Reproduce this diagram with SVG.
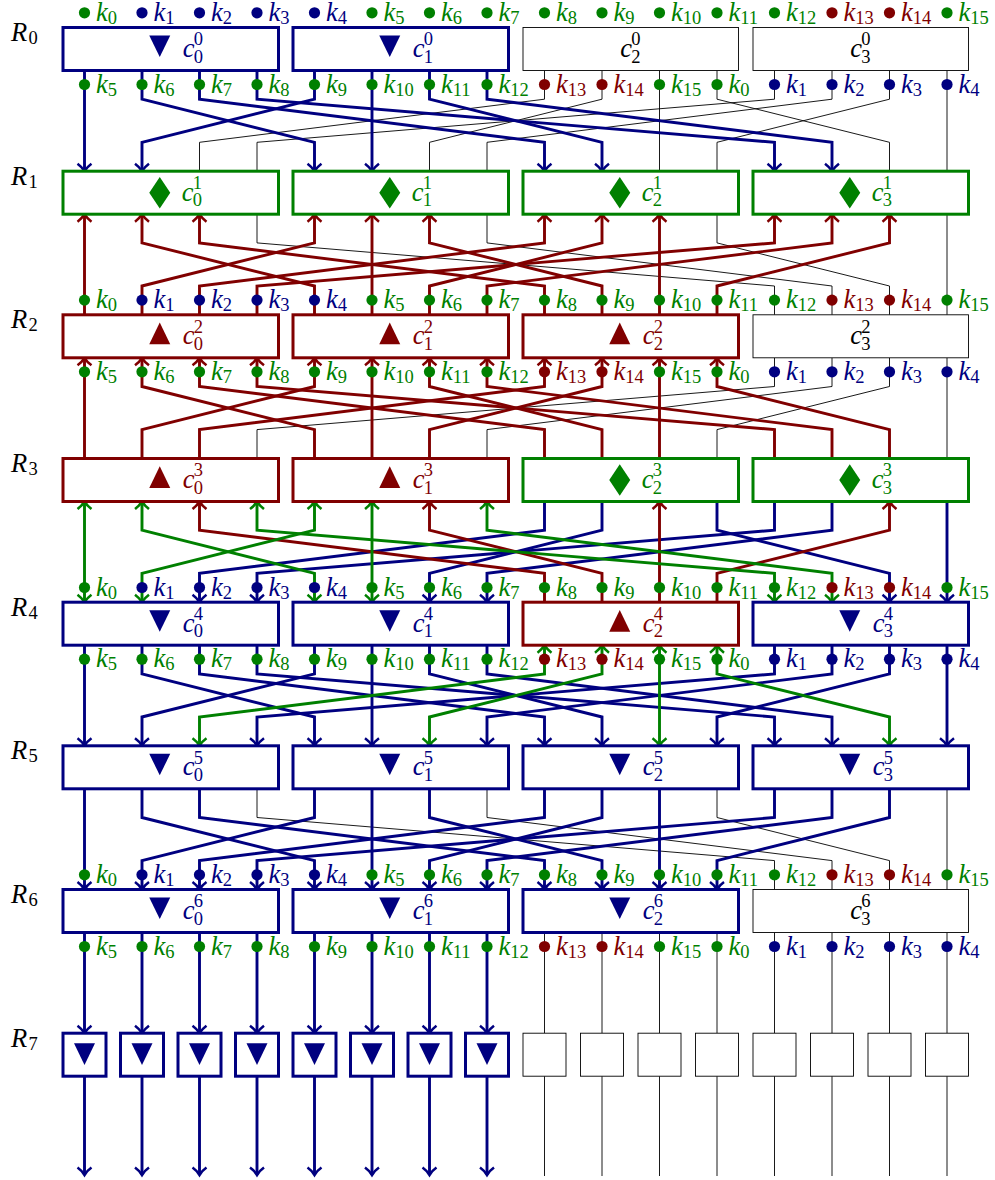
<svg xmlns="http://www.w3.org/2000/svg" width="995" height="1180" viewBox="0 0 995 1180">
<style>
text{font-family:"Liberation Serif","Times New Roman",serif;font-style:italic;font-size:26.5px}
.s{font-style:normal;font-size:18.5px}
.G{fill:#008000}.N{fill:#000080}.M{fill:#800000}.K{fill:#000}
path{fill:none}
.t{stroke:#000;stroke-width:.9}
.bd{stroke:#000080;stroke-width:2.9;marker-end:url(#an)}
.ru{stroke:#800000;stroke-width:2.9;marker-start:url(#am)}
.gg{stroke:#008000;stroke-width:2.9;marker-start:url(#ag);marker-end:url(#ag)}
.bx{fill:#fff;stroke-width:3}
.bG{stroke:#008000}.bN{stroke:#000080}.bM{stroke:#800000}
.bK{fill:#fff;stroke:#000;stroke-width:.9}
</style>
<defs>
<marker id="an" markerUnits="userSpaceOnUse" markerWidth="20" markerHeight="20" refX="0" refY="0" orient="auto-start-reverse" overflow="visible"><path d="M-7.5,-7C-5,-3.5-2,-1.2 0,0C-2,1.2-5,3.5-7.5,7" style="stroke:#000080;stroke-width:2.6"/></marker>
<marker id="am" markerUnits="userSpaceOnUse" markerWidth="20" markerHeight="20" refX="0" refY="0" orient="auto-start-reverse" overflow="visible"><path d="M-7.5,-7C-5,-3.5-2,-1.2 0,0C-2,1.2-5,3.5-7.5,7" style="stroke:#800000;stroke-width:2.6"/></marker>
<marker id="ag" markerUnits="userSpaceOnUse" markerWidth="20" markerHeight="20" refX="0" refY="0" orient="auto-start-reverse" overflow="visible"><path d="M-7.5,-7C-5,-3.5-2,-1.2 0,0C-2,1.2-5,3.5-7.5,7" style="stroke:#008000;stroke-width:2.6"/></marker>
<path id="td" style="fill:inherit" d="M-10.5,-13.5H10.5L0,8Z"/>
<path id="tu" style="fill:inherit" d="M-10.5,8H10.5L0,-13.8Z"/>
<path id="di" style="fill:inherit" d="M0,-15.7L10.5,0L0,15.7L-10.5,0Z"/>
<path id="ts" style="fill:inherit" d="M-10.5,-11.7H10.5L0,10Z"/>
</defs>
<g id="connectors">
<g id="layer0">
<path class="t" d="M544.5 70.5V99.2L199.5 142.3V171.2"/>
<path class="t" d="M602 70.5V99.2L429.5 142.3V171.2"/>
<path class="t" d="M659.5 70.5V171.2"/>
<path class="t" d="M717 70.5V99.2L889.5 142.3V171.2"/>
<path class="t" d="M774.5 70.5V99.2L257 142.3V171.2"/>
<path class="t" d="M832 70.5V99.2L487 142.3V171.2"/>
<path class="t" d="M889.5 70.5V99.2L717 142.3V171.2"/>
<path class="t" d="M947 70.5V171.2"/>
<path class="bd" d="M84.5 70.5V171.2"/>
<path class="bd" d="M142 70.5V99.2L314.5 142.3V171.2"/>
<path class="bd" d="M199.5 70.5V99.2L544.5 142.3V171.2"/>
<path class="bd" d="M257 70.5V99.2L774.5 142.3V171.2"/>
<path class="bd" d="M314.5 70.5V99.2L142 142.3V171.2"/>
<path class="bd" d="M372 70.5V171.2"/>
<path class="bd" d="M429.5 70.5V99.2L602 142.3V171.2"/>
<path class="bd" d="M487 70.5V99.2L832 142.3V171.2"/>
</g>
<g id="layer1">
<path class="t" d="M257 214.2V242.9L774.5 286V314.8"/>
<path class="t" d="M487 214.2V242.9L832 286V314.8"/>
<path class="t" d="M717 214.2V242.9L889.5 286V314.8"/>
<path class="t" d="M947 214.2V314.8"/>
<path class="ru" d="M84.5 214.2V314.8"/>
<path class="ru" d="M142 214.2V242.9L314.5 286V314.8"/>
<path class="ru" d="M199.5 214.2V242.9L544.5 286V314.8"/>
<path class="ru" d="M314.5 214.2V242.9L142 286V314.8"/>
<path class="ru" d="M372 214.2V314.8"/>
<path class="ru" d="M429.5 214.2V242.9L602 286V314.8"/>
<path class="ru" d="M544.5 214.2V242.9L199.5 286V314.8"/>
<path class="ru" d="M602 214.2V242.9L429.5 286V314.8"/>
<path class="ru" d="M659.5 214.2V314.8"/>
<path class="ru" d="M774.5 214.2V242.9L257 286V314.8"/>
<path class="ru" d="M832 214.2V242.9L487 286V314.8"/>
<path class="ru" d="M889.5 214.2V242.9L717 286V314.8"/>
</g>
<g id="layer2">
<path class="t" d="M774.5 357.8V386.5L257 429.6V458.5"/>
<path class="t" d="M832 357.8V386.5L487 429.6V458.5"/>
<path class="t" d="M889.5 357.8V386.5L717 429.6V458.5"/>
<path class="t" d="M947 357.8V458.5"/>
<path class="ru" d="M84.5 357.8V458.5"/>
<path class="ru" d="M142 357.8V386.5L314.5 429.6V458.5"/>
<path class="ru" d="M199.5 357.8V386.5L544.5 429.6V458.5"/>
<path class="ru" d="M257 357.8V386.5L774.5 429.6V458.5"/>
<path class="ru" d="M314.5 357.8V386.5L142 429.6V458.5"/>
<path class="ru" d="M372 357.8V458.5"/>
<path class="ru" d="M429.5 357.8V386.5L602 429.6V458.5"/>
<path class="ru" d="M487 357.8V386.5L832 429.6V458.5"/>
<path class="ru" d="M544.5 357.8V386.5L199.5 429.6V458.5"/>
<path class="ru" d="M602 357.8V386.5L429.5 429.6V458.5"/>
<path class="ru" d="M659.5 357.8V458.5"/>
<path class="ru" d="M717 357.8V386.5L889.5 429.6V458.5"/>
</g>
<g id="layer3">
<path class="bd" d="M544.5 501.5V530.2L199.5 573.3V602.2"/>
<path class="bd" d="M602 501.5V530.2L429.5 573.3V602.2"/>
<path class="bd" d="M717 501.5V530.2L889.5 573.3V602.2"/>
<path class="bd" d="M774.5 501.5V530.2L257 573.3V602.2"/>
<path class="bd" d="M832 501.5V530.2L487 573.3V602.2"/>
<path class="bd" d="M947 501.5V602.2"/>
<path class="ru" d="M199.5 501.5V530.2L544.5 573.3V602.2"/>
<path class="ru" d="M429.5 501.5V530.2L602 573.3V602.2"/>
<path class="ru" d="M659.5 501.5V602.2"/>
<path class="ru" d="M889.5 501.5V530.2L717 573.3V602.2"/>
<path class="gg" d="M84.5 501.5V602.2"/>
<path class="gg" d="M142 501.5V530.2L314.5 573.3V602.2"/>
<path class="gg" d="M257 501.5V530.2L774.5 573.3V602.2"/>
<path class="gg" d="M314.5 501.5V530.2L142 573.3V602.2"/>
<path class="gg" d="M372 501.5V602.2"/>
<path class="gg" d="M487 501.5V530.2L832 573.3V602.2"/>
</g>
<g id="layer4">
<path class="bd" d="M84.5 645.2V745.8"/>
<path class="bd" d="M142 645.2V673.9L314.5 717V745.8"/>
<path class="bd" d="M199.5 645.2V673.9L544.5 717V745.8"/>
<path class="bd" d="M257 645.2V673.9L774.5 717V745.8"/>
<path class="bd" d="M314.5 645.2V673.9L142 717V745.8"/>
<path class="bd" d="M372 645.2V745.8"/>
<path class="bd" d="M429.5 645.2V673.9L602 717V745.8"/>
<path class="bd" d="M487 645.2V673.9L832 717V745.8"/>
<path class="bd" d="M774.5 645.2V673.9L257 717V745.8"/>
<path class="bd" d="M832 645.2V673.9L487 717V745.8"/>
<path class="bd" d="M889.5 645.2V673.9L717 717V745.8"/>
<path class="bd" d="M947 645.2V745.8"/>
<path class="gg" d="M544.5 645.2V673.9L199.5 717V745.8"/>
<path class="gg" d="M602 645.2V673.9L429.5 717V745.8"/>
<path class="gg" d="M659.5 645.2V745.8"/>
<path class="gg" d="M717 645.2V673.9L889.5 717V745.8"/>
</g>
<g id="layer5">
<path class="t" d="M257 788.8V817.5L774.5 860.6V889.5"/>
<path class="t" d="M487 788.8V817.5L832 860.6V889.5"/>
<path class="t" d="M717 788.8V817.5L889.5 860.6V889.5"/>
<path class="t" d="M947 788.8V889.5"/>
<path class="bd" d="M84.5 788.8V889.5"/>
<path class="bd" d="M142 788.8V817.5L314.5 860.6V889.5"/>
<path class="bd" d="M199.5 788.8V817.5L544.5 860.6V889.5"/>
<path class="bd" d="M314.5 788.8V817.5L142 860.6V889.5"/>
<path class="bd" d="M372 788.8V889.5"/>
<path class="bd" d="M429.5 788.8V817.5L602 860.6V889.5"/>
<path class="bd" d="M544.5 788.8V817.5L199.5 860.6V889.5"/>
<path class="bd" d="M602 788.8V817.5L429.5 860.6V889.5"/>
<path class="bd" d="M659.5 788.8V889.5"/>
<path class="bd" d="M774.5 788.8V817.5L257 860.6V889.5"/>
<path class="bd" d="M832 788.8V817.5L487 860.6V889.5"/>
<path class="bd" d="M889.5 788.8V817.5L717 860.6V889.5"/>
</g>
<g id="layer6">
<path class="bd" d="M84.5 932.5V1033.2"/>
<path class="bd" d="M142 932.5V1033.2"/>
<path class="bd" d="M199.5 932.5V1033.2"/>
<path class="bd" d="M257 932.5V1033.2"/>
<path class="bd" d="M314.5 932.5V1033.2"/>
<path class="bd" d="M372 932.5V1033.2"/>
<path class="bd" d="M429.5 932.5V1033.2"/>
<path class="bd" d="M487 932.5V1033.2"/>
<path class="t" d="M544.5 932.5V1033.2"/>
<path class="t" d="M602 932.5V1033.2"/>
<path class="t" d="M659.5 932.5V1033.2"/>
<path class="t" d="M717 932.5V1033.2"/>
<path class="t" d="M774.5 932.5V1033.2"/>
<path class="t" d="M832 932.5V1033.2"/>
<path class="t" d="M889.5 932.5V1033.2"/>
<path class="t" d="M947 932.5V1033.2"/>
</g>
<g id="layer7">
<path class="bd" d="M84.5 1076.2V1175"/>
<path class="bd" d="M142 1076.2V1175"/>
<path class="bd" d="M199.5 1076.2V1175"/>
<path class="bd" d="M257 1076.2V1175"/>
<path class="bd" d="M314.5 1076.2V1175"/>
<path class="bd" d="M372 1076.2V1175"/>
<path class="bd" d="M429.5 1076.2V1175"/>
<path class="bd" d="M487 1076.2V1175"/>
<path class="t" d="M544.5 1076.2V1176"/>
<path class="t" d="M602 1076.2V1176"/>
<path class="t" d="M659.5 1076.2V1176"/>
<path class="t" d="M717 1076.2V1176"/>
<path class="t" d="M774.5 1076.2V1176"/>
<path class="t" d="M832 1076.2V1176"/>
<path class="t" d="M889.5 1076.2V1176"/>
<path class="t" d="M947 1076.2V1176"/>
</g>
</g>
<g id="round-labels">
<text x="11" y="41">R<tspan class="s" x="28.5" y="44">0</tspan></text>
<text x="11" y="184.7">R<tspan class="s" x="28.5" y="187.7">1</tspan></text>
<text x="11" y="328.3">R<tspan class="s" x="28.5" y="331.3">2</tspan></text>
<text x="11" y="472">R<tspan class="s" x="28.5" y="475">3</tspan></text>
<text x="11" y="615.7">R<tspan class="s" x="28.5" y="618.7">4</tspan></text>
<text x="11" y="759.4">R<tspan class="s" x="28.5" y="762.4">5</tspan></text>
<text x="11" y="903">R<tspan class="s" x="28.5" y="906">6</tspan></text>
<text x="11" y="1046.7">R<tspan class="s" x="28.5" y="1049.7">7</tspan></text>
</g>
<g id="c0-0"><rect class="bx bN" x="63" y="27.5" width="215.5" height="43"/><use class="N" href="#td" x="159.75" y="49"/><text class="N" x="182.75" y="57">c<tspan class="s" x="193.75" y="45.2">0</tspan><tspan class="s" x="193.75" y="62.5">0</tspan></text></g>
<g id="c0-1"><rect class="bx bN" x="293" y="27.5" width="215.5" height="43"/><use class="N" href="#td" x="389.75" y="49"/><text class="N" x="412.75" y="57">c<tspan class="s" x="423.75" y="45.2">0</tspan><tspan class="s" x="423.75" y="62.5">1</tspan></text></g>
<g id="c0-2"><rect class="bK" x="523" y="27.5" width="215.5" height="43"/><text class="K" x="620.25" y="57">c<tspan class="s" x="631.25" y="45.2">0</tspan><tspan class="s" x="631.25" y="62.5">2</tspan></text></g>
<g id="c0-3"><rect class="bK" x="753" y="27.5" width="215.5" height="43"/><text class="K" x="850.25" y="57">c<tspan class="s" x="861.25" y="45.2">0</tspan><tspan class="s" x="861.25" y="62.5">3</tspan></text></g>
<g id="c1-0"><rect class="bx bG" x="63" y="171.2" width="215.5" height="43"/><use class="G" href="#di" x="159.75" y="192.7"/><text class="G" x="181.75" y="200.7">c<tspan class="s" x="192.75" y="188.9">1</tspan><tspan class="s" x="192.75" y="206.2">0</tspan></text></g>
<g id="c1-1"><rect class="bx bG" x="293" y="171.2" width="215.5" height="43"/><use class="G" href="#di" x="389.75" y="192.7"/><text class="G" x="411.75" y="200.7">c<tspan class="s" x="422.75" y="188.9">1</tspan><tspan class="s" x="422.75" y="206.2">1</tspan></text></g>
<g id="c1-2"><rect class="bx bG" x="523" y="171.2" width="215.5" height="43"/><use class="G" href="#di" x="619.75" y="192.7"/><text class="G" x="641.75" y="200.7">c<tspan class="s" x="652.75" y="188.9">1</tspan><tspan class="s" x="652.75" y="206.2">2</tspan></text></g>
<g id="c1-3"><rect class="bx bG" x="753" y="171.2" width="215.5" height="43"/><use class="G" href="#di" x="849.75" y="192.7"/><text class="G" x="871.75" y="200.7">c<tspan class="s" x="882.75" y="188.9">1</tspan><tspan class="s" x="882.75" y="206.2">3</tspan></text></g>
<g id="c2-0"><rect class="bx bM" x="63" y="314.8" width="215.5" height="43"/><use class="M" href="#tu" x="159.75" y="336.3"/><text class="M" x="182.75" y="344.3">c<tspan class="s" x="193.75" y="332.5">2</tspan><tspan class="s" x="193.75" y="349.8">0</tspan></text></g>
<g id="c2-1"><rect class="bx bM" x="293" y="314.8" width="215.5" height="43"/><use class="M" href="#tu" x="389.75" y="336.3"/><text class="M" x="412.75" y="344.3">c<tspan class="s" x="423.75" y="332.5">2</tspan><tspan class="s" x="423.75" y="349.8">1</tspan></text></g>
<g id="c2-2"><rect class="bx bM" x="523" y="314.8" width="215.5" height="43"/><use class="M" href="#tu" x="619.75" y="336.3"/><text class="M" x="642.75" y="344.3">c<tspan class="s" x="653.75" y="332.5">2</tspan><tspan class="s" x="653.75" y="349.8">2</tspan></text></g>
<g id="c2-3"><rect class="bK" x="753" y="314.8" width="215.5" height="43"/><text class="K" x="850.25" y="344.3">c<tspan class="s" x="861.25" y="332.5">2</tspan><tspan class="s" x="861.25" y="349.8">3</tspan></text></g>
<g id="c3-0"><rect class="bx bM" x="63" y="458.5" width="215.5" height="43"/><use class="M" href="#tu" x="159.75" y="480"/><text class="M" x="182.75" y="488">c<tspan class="s" x="193.75" y="476.2">3</tspan><tspan class="s" x="193.75" y="493.5">0</tspan></text></g>
<g id="c3-1"><rect class="bx bM" x="293" y="458.5" width="215.5" height="43"/><use class="M" href="#tu" x="389.75" y="480"/><text class="M" x="412.75" y="488">c<tspan class="s" x="423.75" y="476.2">3</tspan><tspan class="s" x="423.75" y="493.5">1</tspan></text></g>
<g id="c3-2"><rect class="bx bG" x="523" y="458.5" width="215.5" height="43"/><use class="G" href="#di" x="619.75" y="480"/><text class="G" x="641.75" y="488">c<tspan class="s" x="652.75" y="476.2">3</tspan><tspan class="s" x="652.75" y="493.5">2</tspan></text></g>
<g id="c3-3"><rect class="bx bG" x="753" y="458.5" width="215.5" height="43"/><use class="G" href="#di" x="849.75" y="480"/><text class="G" x="871.75" y="488">c<tspan class="s" x="882.75" y="476.2">3</tspan><tspan class="s" x="882.75" y="493.5">3</tspan></text></g>
<g id="c4-0"><rect class="bx bN" x="63" y="602.2" width="215.5" height="43"/><use class="N" href="#td" x="159.75" y="623.7"/><text class="N" x="182.75" y="631.7">c<tspan class="s" x="193.75" y="619.9">4</tspan><tspan class="s" x="193.75" y="637.2">0</tspan></text></g>
<g id="c4-1"><rect class="bx bN" x="293" y="602.2" width="215.5" height="43"/><use class="N" href="#td" x="389.75" y="623.7"/><text class="N" x="412.75" y="631.7">c<tspan class="s" x="423.75" y="619.9">4</tspan><tspan class="s" x="423.75" y="637.2">1</tspan></text></g>
<g id="c4-2"><rect class="bx bM" x="523" y="602.2" width="215.5" height="43"/><use class="M" href="#tu" x="619.75" y="623.7"/><text class="M" x="642.75" y="631.7">c<tspan class="s" x="653.75" y="619.9">4</tspan><tspan class="s" x="653.75" y="637.2">2</tspan></text></g>
<g id="c4-3"><rect class="bx bN" x="753" y="602.2" width="215.5" height="43"/><use class="N" href="#td" x="849.75" y="623.7"/><text class="N" x="872.75" y="631.7">c<tspan class="s" x="883.75" y="619.9">4</tspan><tspan class="s" x="883.75" y="637.2">3</tspan></text></g>
<g id="c5-0"><rect class="bx bN" x="63" y="745.8" width="215.5" height="43"/><use class="N" href="#td" x="159.75" y="767.3"/><text class="N" x="182.75" y="775.3">c<tspan class="s" x="193.75" y="763.5">5</tspan><tspan class="s" x="193.75" y="780.8">0</tspan></text></g>
<g id="c5-1"><rect class="bx bN" x="293" y="745.8" width="215.5" height="43"/><use class="N" href="#td" x="389.75" y="767.3"/><text class="N" x="412.75" y="775.3">c<tspan class="s" x="423.75" y="763.5">5</tspan><tspan class="s" x="423.75" y="780.8">1</tspan></text></g>
<g id="c5-2"><rect class="bx bN" x="523" y="745.8" width="215.5" height="43"/><use class="N" href="#td" x="619.75" y="767.3"/><text class="N" x="642.75" y="775.3">c<tspan class="s" x="653.75" y="763.5">5</tspan><tspan class="s" x="653.75" y="780.8">2</tspan></text></g>
<g id="c5-3"><rect class="bx bN" x="753" y="745.8" width="215.5" height="43"/><use class="N" href="#td" x="849.75" y="767.3"/><text class="N" x="872.75" y="775.3">c<tspan class="s" x="883.75" y="763.5">5</tspan><tspan class="s" x="883.75" y="780.8">3</tspan></text></g>
<g id="c6-0"><rect class="bx bN" x="63" y="889.5" width="215.5" height="43"/><use class="N" href="#td" x="159.75" y="911"/><text class="N" x="182.75" y="919">c<tspan class="s" x="193.75" y="907.2">6</tspan><tspan class="s" x="193.75" y="924.5">0</tspan></text></g>
<g id="c6-1"><rect class="bx bN" x="293" y="889.5" width="215.5" height="43"/><use class="N" href="#td" x="389.75" y="911"/><text class="N" x="412.75" y="919">c<tspan class="s" x="423.75" y="907.2">6</tspan><tspan class="s" x="423.75" y="924.5">1</tspan></text></g>
<g id="c6-2"><rect class="bx bN" x="523" y="889.5" width="215.5" height="43"/><use class="N" href="#td" x="619.75" y="911"/><text class="N" x="642.75" y="919">c<tspan class="s" x="653.75" y="907.2">6</tspan><tspan class="s" x="653.75" y="924.5">2</tspan></text></g>
<g id="c6-3"><rect class="bK" x="753" y="889.5" width="215.5" height="43"/><text class="K" x="850.25" y="919">c<tspan class="s" x="861.25" y="907.2">6</tspan><tspan class="s" x="861.25" y="924.5">3</tspan></text></g>
<g id="s0"><rect class="bx bN" x="63" y="1033.2" width="43" height="43"/><use class="N" href="#ts" x="84.5" y="1055"/></g>
<g id="s1"><rect class="bx bN" x="120.5" y="1033.2" width="43" height="43"/><use class="N" href="#ts" x="142" y="1055"/></g>
<g id="s2"><rect class="bx bN" x="178" y="1033.2" width="43" height="43"/><use class="N" href="#ts" x="199.5" y="1055"/></g>
<g id="s3"><rect class="bx bN" x="235.5" y="1033.2" width="43" height="43"/><use class="N" href="#ts" x="257" y="1055"/></g>
<g id="s4"><rect class="bx bN" x="293" y="1033.2" width="43" height="43"/><use class="N" href="#ts" x="314.5" y="1055"/></g>
<g id="s5"><rect class="bx bN" x="350.5" y="1033.2" width="43" height="43"/><use class="N" href="#ts" x="372" y="1055"/></g>
<g id="s6"><rect class="bx bN" x="408" y="1033.2" width="43" height="43"/><use class="N" href="#ts" x="429.5" y="1055"/></g>
<g id="s7"><rect class="bx bN" x="465.5" y="1033.2" width="43" height="43"/><use class="N" href="#ts" x="487" y="1055"/></g>
<g id="s8"><rect class="bK" x="523" y="1033.2" width="43" height="43"/></g>
<g id="s9"><rect class="bK" x="580.5" y="1033.2" width="43" height="43"/></g>
<g id="s10"><rect class="bK" x="638" y="1033.2" width="43" height="43"/></g>
<g id="s11"><rect class="bK" x="695.5" y="1033.2" width="43" height="43"/></g>
<g id="s12"><rect class="bK" x="753" y="1033.2" width="43" height="43"/></g>
<g id="s13"><rect class="bK" x="810.5" y="1033.2" width="43" height="43"/></g>
<g id="s14"><rect class="bK" x="868" y="1033.2" width="43" height="43"/></g>
<g id="s15"><rect class="bK" x="925.5" y="1033.2" width="43" height="43"/></g>
<g id="keys-r0-top">
<circle class="G" cx="84.5" cy="12.8" r="5.6"/><text class="G" x="96" y="20.8">k<tspan class="s" dy="3">0</tspan></text>
<circle class="N" cx="142" cy="12.8" r="5.6"/><text class="N" x="153.5" y="20.8">k<tspan class="s" dy="3">1</tspan></text>
<circle class="N" cx="199.5" cy="12.8" r="5.6"/><text class="N" x="211" y="20.8">k<tspan class="s" dy="3">2</tspan></text>
<circle class="N" cx="257" cy="12.8" r="5.6"/><text class="N" x="268.5" y="20.8">k<tspan class="s" dy="3">3</tspan></text>
<circle class="N" cx="314.5" cy="12.8" r="5.6"/><text class="N" x="326" y="20.8">k<tspan class="s" dy="3">4</tspan></text>
<circle class="G" cx="372" cy="12.8" r="5.6"/><text class="G" x="383.5" y="20.8">k<tspan class="s" dy="3">5</tspan></text>
<circle class="G" cx="429.5" cy="12.8" r="5.6"/><text class="G" x="441" y="20.8">k<tspan class="s" dy="3">6</tspan></text>
<circle class="G" cx="487" cy="12.8" r="5.6"/><text class="G" x="498.5" y="20.8">k<tspan class="s" dy="3">7</tspan></text>
<circle class="G" cx="544.5" cy="12.8" r="5.6"/><text class="G" x="556" y="20.8">k<tspan class="s" dy="3">8</tspan></text>
<circle class="G" cx="602" cy="12.8" r="5.6"/><text class="G" x="613.5" y="20.8">k<tspan class="s" dy="3">9</tspan></text>
<circle class="G" cx="659.5" cy="12.8" r="5.6"/><text class="G" x="671" y="20.8">k<tspan class="s" dy="3">10</tspan></text>
<circle class="G" cx="717" cy="12.8" r="5.6"/><text class="G" x="728.5" y="20.8">k<tspan class="s" dy="3">11</tspan></text>
<circle class="G" cx="774.5" cy="12.8" r="5.6"/><text class="G" x="786" y="20.8">k<tspan class="s" dy="3">12</tspan></text>
<circle class="M" cx="832" cy="12.8" r="5.6"/><text class="M" x="843.5" y="20.8">k<tspan class="s" dy="3">13</tspan></text>
<circle class="M" cx="889.5" cy="12.8" r="5.6"/><text class="M" x="901" y="20.8">k<tspan class="s" dy="3">14</tspan></text>
<circle class="G" cx="947" cy="12.8" r="5.6"/><text class="G" x="958.5" y="20.8">k<tspan class="s" dy="3">15</tspan></text>
</g>
<g id="keys-r0-bottom">
<circle class="G" cx="84.5" cy="84.5" r="5.6"/><text class="G" x="96" y="92.5">k<tspan class="s" dy="3">5</tspan></text>
<circle class="G" cx="142" cy="84.5" r="5.6"/><text class="G" x="153.5" y="92.5">k<tspan class="s" dy="3">6</tspan></text>
<circle class="G" cx="199.5" cy="84.5" r="5.6"/><text class="G" x="211" y="92.5">k<tspan class="s" dy="3">7</tspan></text>
<circle class="G" cx="257" cy="84.5" r="5.6"/><text class="G" x="268.5" y="92.5">k<tspan class="s" dy="3">8</tspan></text>
<circle class="G" cx="314.5" cy="84.5" r="5.6"/><text class="G" x="326" y="92.5">k<tspan class="s" dy="3">9</tspan></text>
<circle class="G" cx="372" cy="84.5" r="5.6"/><text class="G" x="383.5" y="92.5">k<tspan class="s" dy="3">10</tspan></text>
<circle class="G" cx="429.5" cy="84.5" r="5.6"/><text class="G" x="441" y="92.5">k<tspan class="s" dy="3">11</tspan></text>
<circle class="G" cx="487" cy="84.5" r="5.6"/><text class="G" x="498.5" y="92.5">k<tspan class="s" dy="3">12</tspan></text>
<circle class="M" cx="544.5" cy="84.5" r="5.6"/><text class="M" x="556" y="92.5">k<tspan class="s" dy="3">13</tspan></text>
<circle class="M" cx="602" cy="84.5" r="5.6"/><text class="M" x="613.5" y="92.5">k<tspan class="s" dy="3">14</tspan></text>
<circle class="G" cx="659.5" cy="84.5" r="5.6"/><text class="G" x="671" y="92.5">k<tspan class="s" dy="3">15</tspan></text>
<circle class="G" cx="717" cy="84.5" r="5.6"/><text class="G" x="728.5" y="92.5">k<tspan class="s" dy="3">0</tspan></text>
<circle class="N" cx="774.5" cy="84.5" r="5.6"/><text class="N" x="786" y="92.5">k<tspan class="s" dy="3">1</tspan></text>
<circle class="N" cx="832" cy="84.5" r="5.6"/><text class="N" x="843.5" y="92.5">k<tspan class="s" dy="3">2</tspan></text>
<circle class="N" cx="889.5" cy="84.5" r="5.6"/><text class="N" x="901" y="92.5">k<tspan class="s" dy="3">3</tspan></text>
<circle class="N" cx="947" cy="84.5" r="5.6"/><text class="N" x="958.5" y="92.5">k<tspan class="s" dy="3">4</tspan></text>
</g>
<g id="keys-r2-top">
<circle class="G" cx="84.5" cy="300.1" r="5.6"/><text class="G" x="96" y="308.1">k<tspan class="s" dy="3">0</tspan></text>
<circle class="N" cx="142" cy="300.1" r="5.6"/><text class="N" x="153.5" y="308.1">k<tspan class="s" dy="3">1</tspan></text>
<circle class="N" cx="199.5" cy="300.1" r="5.6"/><text class="N" x="211" y="308.1">k<tspan class="s" dy="3">2</tspan></text>
<circle class="N" cx="257" cy="300.1" r="5.6"/><text class="N" x="268.5" y="308.1">k<tspan class="s" dy="3">3</tspan></text>
<circle class="N" cx="314.5" cy="300.1" r="5.6"/><text class="N" x="326" y="308.1">k<tspan class="s" dy="3">4</tspan></text>
<circle class="G" cx="372" cy="300.1" r="5.6"/><text class="G" x="383.5" y="308.1">k<tspan class="s" dy="3">5</tspan></text>
<circle class="G" cx="429.5" cy="300.1" r="5.6"/><text class="G" x="441" y="308.1">k<tspan class="s" dy="3">6</tspan></text>
<circle class="G" cx="487" cy="300.1" r="5.6"/><text class="G" x="498.5" y="308.1">k<tspan class="s" dy="3">7</tspan></text>
<circle class="G" cx="544.5" cy="300.1" r="5.6"/><text class="G" x="556" y="308.1">k<tspan class="s" dy="3">8</tspan></text>
<circle class="G" cx="602" cy="300.1" r="5.6"/><text class="G" x="613.5" y="308.1">k<tspan class="s" dy="3">9</tspan></text>
<circle class="G" cx="659.5" cy="300.1" r="5.6"/><text class="G" x="671" y="308.1">k<tspan class="s" dy="3">10</tspan></text>
<circle class="G" cx="717" cy="300.1" r="5.6"/><text class="G" x="728.5" y="308.1">k<tspan class="s" dy="3">11</tspan></text>
<circle class="G" cx="774.5" cy="300.1" r="5.6"/><text class="G" x="786" y="308.1">k<tspan class="s" dy="3">12</tspan></text>
<circle class="M" cx="832" cy="300.1" r="5.6"/><text class="M" x="843.5" y="308.1">k<tspan class="s" dy="3">13</tspan></text>
<circle class="M" cx="889.5" cy="300.1" r="5.6"/><text class="M" x="901" y="308.1">k<tspan class="s" dy="3">14</tspan></text>
<circle class="G" cx="947" cy="300.1" r="5.6"/><text class="G" x="958.5" y="308.1">k<tspan class="s" dy="3">15</tspan></text>
</g>
<g id="keys-r2-bottom">
<circle class="G" cx="84.5" cy="371.8" r="5.6"/><text class="G" x="96" y="379.8">k<tspan class="s" dy="3">5</tspan></text>
<circle class="G" cx="142" cy="371.8" r="5.6"/><text class="G" x="153.5" y="379.8">k<tspan class="s" dy="3">6</tspan></text>
<circle class="G" cx="199.5" cy="371.8" r="5.6"/><text class="G" x="211" y="379.8">k<tspan class="s" dy="3">7</tspan></text>
<circle class="G" cx="257" cy="371.8" r="5.6"/><text class="G" x="268.5" y="379.8">k<tspan class="s" dy="3">8</tspan></text>
<circle class="G" cx="314.5" cy="371.8" r="5.6"/><text class="G" x="326" y="379.8">k<tspan class="s" dy="3">9</tspan></text>
<circle class="G" cx="372" cy="371.8" r="5.6"/><text class="G" x="383.5" y="379.8">k<tspan class="s" dy="3">10</tspan></text>
<circle class="G" cx="429.5" cy="371.8" r="5.6"/><text class="G" x="441" y="379.8">k<tspan class="s" dy="3">11</tspan></text>
<circle class="G" cx="487" cy="371.8" r="5.6"/><text class="G" x="498.5" y="379.8">k<tspan class="s" dy="3">12</tspan></text>
<circle class="M" cx="544.5" cy="371.8" r="5.6"/><text class="M" x="556" y="379.8">k<tspan class="s" dy="3">13</tspan></text>
<circle class="M" cx="602" cy="371.8" r="5.6"/><text class="M" x="613.5" y="379.8">k<tspan class="s" dy="3">14</tspan></text>
<circle class="G" cx="659.5" cy="371.8" r="5.6"/><text class="G" x="671" y="379.8">k<tspan class="s" dy="3">15</tspan></text>
<circle class="G" cx="717" cy="371.8" r="5.6"/><text class="G" x="728.5" y="379.8">k<tspan class="s" dy="3">0</tspan></text>
<circle class="N" cx="774.5" cy="371.8" r="5.6"/><text class="N" x="786" y="379.8">k<tspan class="s" dy="3">1</tspan></text>
<circle class="N" cx="832" cy="371.8" r="5.6"/><text class="N" x="843.5" y="379.8">k<tspan class="s" dy="3">2</tspan></text>
<circle class="N" cx="889.5" cy="371.8" r="5.6"/><text class="N" x="901" y="379.8">k<tspan class="s" dy="3">3</tspan></text>
<circle class="N" cx="947" cy="371.8" r="5.6"/><text class="N" x="958.5" y="379.8">k<tspan class="s" dy="3">4</tspan></text>
</g>
<g id="keys-r4-top">
<circle class="G" cx="84.5" cy="587.5" r="5.6"/><text class="G" x="96" y="595.5">k<tspan class="s" dy="3">0</tspan></text>
<circle class="N" cx="142" cy="587.5" r="5.6"/><text class="N" x="153.5" y="595.5">k<tspan class="s" dy="3">1</tspan></text>
<circle class="N" cx="199.5" cy="587.5" r="5.6"/><text class="N" x="211" y="595.5">k<tspan class="s" dy="3">2</tspan></text>
<circle class="N" cx="257" cy="587.5" r="5.6"/><text class="N" x="268.5" y="595.5">k<tspan class="s" dy="3">3</tspan></text>
<circle class="N" cx="314.5" cy="587.5" r="5.6"/><text class="N" x="326" y="595.5">k<tspan class="s" dy="3">4</tspan></text>
<circle class="G" cx="372" cy="587.5" r="5.6"/><text class="G" x="383.5" y="595.5">k<tspan class="s" dy="3">5</tspan></text>
<circle class="G" cx="429.5" cy="587.5" r="5.6"/><text class="G" x="441" y="595.5">k<tspan class="s" dy="3">6</tspan></text>
<circle class="G" cx="487" cy="587.5" r="5.6"/><text class="G" x="498.5" y="595.5">k<tspan class="s" dy="3">7</tspan></text>
<circle class="G" cx="544.5" cy="587.5" r="5.6"/><text class="G" x="556" y="595.5">k<tspan class="s" dy="3">8</tspan></text>
<circle class="G" cx="602" cy="587.5" r="5.6"/><text class="G" x="613.5" y="595.5">k<tspan class="s" dy="3">9</tspan></text>
<circle class="G" cx="659.5" cy="587.5" r="5.6"/><text class="G" x="671" y="595.5">k<tspan class="s" dy="3">10</tspan></text>
<circle class="G" cx="717" cy="587.5" r="5.6"/><text class="G" x="728.5" y="595.5">k<tspan class="s" dy="3">11</tspan></text>
<circle class="G" cx="774.5" cy="587.5" r="5.6"/><text class="G" x="786" y="595.5">k<tspan class="s" dy="3">12</tspan></text>
<circle class="M" cx="832" cy="587.5" r="5.6"/><text class="M" x="843.5" y="595.5">k<tspan class="s" dy="3">13</tspan></text>
<circle class="M" cx="889.5" cy="587.5" r="5.6"/><text class="M" x="901" y="595.5">k<tspan class="s" dy="3">14</tspan></text>
<circle class="G" cx="947" cy="587.5" r="5.6"/><text class="G" x="958.5" y="595.5">k<tspan class="s" dy="3">15</tspan></text>
</g>
<g id="keys-r4-bottom">
<circle class="G" cx="84.5" cy="659.2" r="5.6"/><text class="G" x="96" y="667.2">k<tspan class="s" dy="3">5</tspan></text>
<circle class="G" cx="142" cy="659.2" r="5.6"/><text class="G" x="153.5" y="667.2">k<tspan class="s" dy="3">6</tspan></text>
<circle class="G" cx="199.5" cy="659.2" r="5.6"/><text class="G" x="211" y="667.2">k<tspan class="s" dy="3">7</tspan></text>
<circle class="G" cx="257" cy="659.2" r="5.6"/><text class="G" x="268.5" y="667.2">k<tspan class="s" dy="3">8</tspan></text>
<circle class="G" cx="314.5" cy="659.2" r="5.6"/><text class="G" x="326" y="667.2">k<tspan class="s" dy="3">9</tspan></text>
<circle class="G" cx="372" cy="659.2" r="5.6"/><text class="G" x="383.5" y="667.2">k<tspan class="s" dy="3">10</tspan></text>
<circle class="G" cx="429.5" cy="659.2" r="5.6"/><text class="G" x="441" y="667.2">k<tspan class="s" dy="3">11</tspan></text>
<circle class="G" cx="487" cy="659.2" r="5.6"/><text class="G" x="498.5" y="667.2">k<tspan class="s" dy="3">12</tspan></text>
<circle class="M" cx="544.5" cy="659.2" r="5.6"/><text class="M" x="556" y="667.2">k<tspan class="s" dy="3">13</tspan></text>
<circle class="M" cx="602" cy="659.2" r="5.6"/><text class="M" x="613.5" y="667.2">k<tspan class="s" dy="3">14</tspan></text>
<circle class="G" cx="659.5" cy="659.2" r="5.6"/><text class="G" x="671" y="667.2">k<tspan class="s" dy="3">15</tspan></text>
<circle class="G" cx="717" cy="659.2" r="5.6"/><text class="G" x="728.5" y="667.2">k<tspan class="s" dy="3">0</tspan></text>
<circle class="N" cx="774.5" cy="659.2" r="5.6"/><text class="N" x="786" y="667.2">k<tspan class="s" dy="3">1</tspan></text>
<circle class="N" cx="832" cy="659.2" r="5.6"/><text class="N" x="843.5" y="667.2">k<tspan class="s" dy="3">2</tspan></text>
<circle class="N" cx="889.5" cy="659.2" r="5.6"/><text class="N" x="901" y="667.2">k<tspan class="s" dy="3">3</tspan></text>
<circle class="N" cx="947" cy="659.2" r="5.6"/><text class="N" x="958.5" y="667.2">k<tspan class="s" dy="3">4</tspan></text>
</g>
<g id="keys-r6-top">
<circle class="G" cx="84.5" cy="874.8" r="5.6"/><text class="G" x="96" y="882.8">k<tspan class="s" dy="3">0</tspan></text>
<circle class="N" cx="142" cy="874.8" r="5.6"/><text class="N" x="153.5" y="882.8">k<tspan class="s" dy="3">1</tspan></text>
<circle class="N" cx="199.5" cy="874.8" r="5.6"/><text class="N" x="211" y="882.8">k<tspan class="s" dy="3">2</tspan></text>
<circle class="N" cx="257" cy="874.8" r="5.6"/><text class="N" x="268.5" y="882.8">k<tspan class="s" dy="3">3</tspan></text>
<circle class="N" cx="314.5" cy="874.8" r="5.6"/><text class="N" x="326" y="882.8">k<tspan class="s" dy="3">4</tspan></text>
<circle class="G" cx="372" cy="874.8" r="5.6"/><text class="G" x="383.5" y="882.8">k<tspan class="s" dy="3">5</tspan></text>
<circle class="G" cx="429.5" cy="874.8" r="5.6"/><text class="G" x="441" y="882.8">k<tspan class="s" dy="3">6</tspan></text>
<circle class="G" cx="487" cy="874.8" r="5.6"/><text class="G" x="498.5" y="882.8">k<tspan class="s" dy="3">7</tspan></text>
<circle class="G" cx="544.5" cy="874.8" r="5.6"/><text class="G" x="556" y="882.8">k<tspan class="s" dy="3">8</tspan></text>
<circle class="G" cx="602" cy="874.8" r="5.6"/><text class="G" x="613.5" y="882.8">k<tspan class="s" dy="3">9</tspan></text>
<circle class="G" cx="659.5" cy="874.8" r="5.6"/><text class="G" x="671" y="882.8">k<tspan class="s" dy="3">10</tspan></text>
<circle class="G" cx="717" cy="874.8" r="5.6"/><text class="G" x="728.5" y="882.8">k<tspan class="s" dy="3">11</tspan></text>
<circle class="G" cx="774.5" cy="874.8" r="5.6"/><text class="G" x="786" y="882.8">k<tspan class="s" dy="3">12</tspan></text>
<circle class="M" cx="832" cy="874.8" r="5.6"/><text class="M" x="843.5" y="882.8">k<tspan class="s" dy="3">13</tspan></text>
<circle class="M" cx="889.5" cy="874.8" r="5.6"/><text class="M" x="901" y="882.8">k<tspan class="s" dy="3">14</tspan></text>
<circle class="G" cx="947" cy="874.8" r="5.6"/><text class="G" x="958.5" y="882.8">k<tspan class="s" dy="3">15</tspan></text>
</g>
<g id="keys-r6-bottom">
<circle class="G" cx="84.5" cy="946.5" r="5.6"/><text class="G" x="96" y="954.5">k<tspan class="s" dy="3">5</tspan></text>
<circle class="G" cx="142" cy="946.5" r="5.6"/><text class="G" x="153.5" y="954.5">k<tspan class="s" dy="3">6</tspan></text>
<circle class="G" cx="199.5" cy="946.5" r="5.6"/><text class="G" x="211" y="954.5">k<tspan class="s" dy="3">7</tspan></text>
<circle class="G" cx="257" cy="946.5" r="5.6"/><text class="G" x="268.5" y="954.5">k<tspan class="s" dy="3">8</tspan></text>
<circle class="G" cx="314.5" cy="946.5" r="5.6"/><text class="G" x="326" y="954.5">k<tspan class="s" dy="3">9</tspan></text>
<circle class="G" cx="372" cy="946.5" r="5.6"/><text class="G" x="383.5" y="954.5">k<tspan class="s" dy="3">10</tspan></text>
<circle class="G" cx="429.5" cy="946.5" r="5.6"/><text class="G" x="441" y="954.5">k<tspan class="s" dy="3">11</tspan></text>
<circle class="G" cx="487" cy="946.5" r="5.6"/><text class="G" x="498.5" y="954.5">k<tspan class="s" dy="3">12</tspan></text>
<circle class="M" cx="544.5" cy="946.5" r="5.6"/><text class="M" x="556" y="954.5">k<tspan class="s" dy="3">13</tspan></text>
<circle class="M" cx="602" cy="946.5" r="5.6"/><text class="M" x="613.5" y="954.5">k<tspan class="s" dy="3">14</tspan></text>
<circle class="G" cx="659.5" cy="946.5" r="5.6"/><text class="G" x="671" y="954.5">k<tspan class="s" dy="3">15</tspan></text>
<circle class="G" cx="717" cy="946.5" r="5.6"/><text class="G" x="728.5" y="954.5">k<tspan class="s" dy="3">0</tspan></text>
<circle class="N" cx="774.5" cy="946.5" r="5.6"/><text class="N" x="786" y="954.5">k<tspan class="s" dy="3">1</tspan></text>
<circle class="N" cx="832" cy="946.5" r="5.6"/><text class="N" x="843.5" y="954.5">k<tspan class="s" dy="3">2</tspan></text>
<circle class="N" cx="889.5" cy="946.5" r="5.6"/><text class="N" x="901" y="954.5">k<tspan class="s" dy="3">3</tspan></text>
<circle class="N" cx="947" cy="946.5" r="5.6"/><text class="N" x="958.5" y="954.5">k<tspan class="s" dy="3">4</tspan></text>
</g>
</svg>
